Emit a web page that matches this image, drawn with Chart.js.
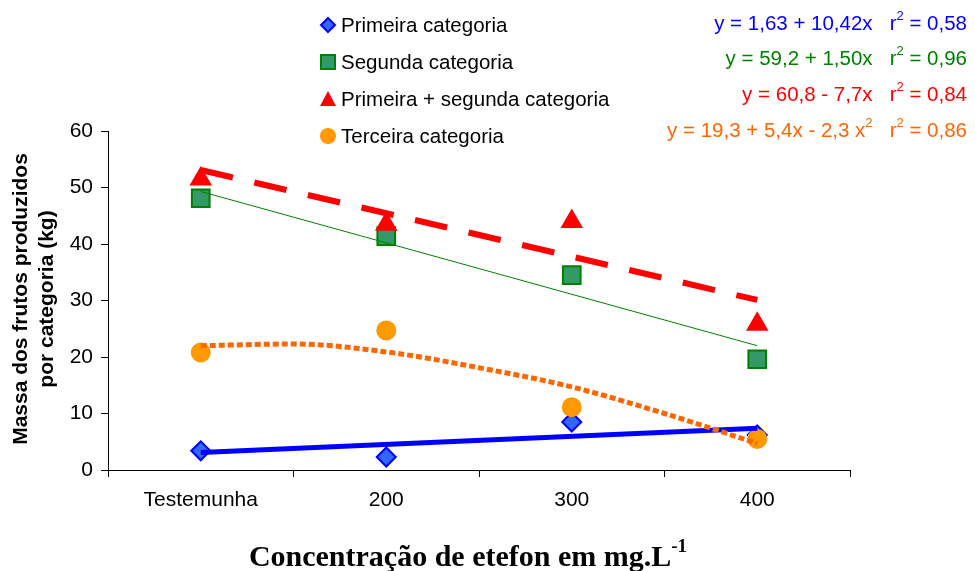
<!DOCTYPE html>
<html>
<head>
<meta charset="utf-8">
<script src="https://cdn.jsdelivr.net/npm/chart.js@4.4.0/dist/chart.umd.min.js"></script>
<style>
  html, body { margin: 0; padding: 0; background: #fff; }
</style>
</head>
<body>
<canvas id="massaChart" width="975" height="571"></canvas>
<script>
// categorias do eixo x (posicao 1..4 no eixo linear escondido)
const categories = ['Testemunha', '200', '300', '400'];
const catPos = [1, 2, 3, 4];

// valores (kg)
const primeira = [3.4, 2.3, 8.5, 6.2];
const segunda = [48.1, 41.4, 34.5, 19.6];
const primeiraSegunda = [51.5, 43.5, 44.0, 25.8];
const terceira = [20.8, 24.7, 11.1, 5.5];

// linhas de tendencia
const trendLinX = [1, 4];
const trendPrimeira = [3.1, 7.4];
const trendSegunda = [49.3, 22.0];
const trendSoma = [53.1, 30.1];
const trendTercX = [1, 1.5, 2, 2.5, 3, 3.5, 4];
const trendTerceira = [22.0, 22.3, 20.9, 18.1, 14.7, 10.0, 4.7];

const yMin = 0, yMax = 60, yStep = 10;

const legendLabels = ['Primeira categoria', 'Segunda categoria', 'Primeira + segunda categoria', 'Terceira categoria'];
const equations = [
  [['y = 1,63 + 10,42x   r', 0], ['2', 1], [' = 0,58', 0]],
  [['y = 59,2 + 1,50x   r', 0], ['2', 1], [' = 0,96', 0]],
  [['y = 60,8 - 7,7x   r', 0], ['2', 1], [' = 0,84', 0]],
  [['y = 19,3 + 5,4x - 2,3 x', 0], ['2', 1], ['   r', 0], ['2', 1], [' = 0,86', 0]]
];
const yTitle = ['Massa dos frutos produzidos', 'por categoria (kg)'];
const xTitle = 'Concentração de etefon em mg.L';
const xTitleSup = '-1';

const sans = 'Arial, "Liberation Sans", sans-serif';
const serif = '"Times New Roman", "Liberation Serif", serif';

const colors = {
  blue: '#0000ff', blueFill: '#3366ff',
  green: '#008000', greenFill: '#339966',
  red: '#ff0000',
  orange: '#ff9900', orangeLine: '#ff6600'
};

function pts(xs, ys) {
  return xs.map((x, i) => ({ x: x, y: ys[i] }));
}

function markerSet(label, ys, style, fill, border, radius, order) {
  return {
    label: label,
    data: pts(catPos, ys),
    xAxisID: 'xl',
    showLine: false,
    pointStyle: style,
    pointRadius: radius,
    pointBackgroundColor: fill,
    pointBorderColor: border,
    pointBorderWidth: 2,
    order: order
  };
}

function trendSet(xs, ys, color, width, dash, order, curved) {
  return {
    data: pts(xs, ys),
    xAxisID: 'xl',
    borderColor: color,
    borderWidth: width,
    borderDash: dash,
    borderCapStyle: 'butt',
    pointRadius: 0,
    cubicInterpolationMode: curved ? 'monotone' : 'default',
    tension: 0,
    fill: false,
    order: order
  };
}

// desenha legenda, equacoes e titulos dos eixos
const extrasPlugin = {
  id: 'extras',
  afterDraw(chart) {
    const ctx = chart.ctx;
    ctx.save();

    // legenda
    const rows = [25, 62, 99, 136];
    ctx.font = '20.5px ' + sans;
    ctx.fillStyle = '#000';
    ctx.textBaseline = 'middle';
    ctx.textAlign = 'left';
    legendLabels.forEach((t, i) => ctx.fillText(t, 341, rows[i] + 1));

    const mx = 328;
    // losango
    ctx.beginPath();
    ctx.moveTo(mx, rows[0] - 7); ctx.lineTo(mx + 7, rows[0]);
    ctx.lineTo(mx, rows[0] + 7); ctx.lineTo(mx - 7, rows[0]); ctx.closePath();
    ctx.fillStyle = colors.blueFill; ctx.fill();
    ctx.lineWidth = 2; ctx.strokeStyle = colors.blue; ctx.stroke();
    // quadrado
    ctx.fillStyle = colors.greenFill;
    ctx.fillRect(mx - 7, rows[1] - 7, 14, 14);
    ctx.strokeStyle = colors.green; ctx.strokeRect(mx - 7, rows[1] - 7, 14, 14);
    // triangulo
    ctx.beginPath();
    ctx.moveTo(mx, rows[2] - 8); ctx.lineTo(mx + 8, rows[2] + 7); ctx.lineTo(mx - 8, rows[2] + 7);
    ctx.closePath(); ctx.fillStyle = colors.red; ctx.fill();
    // circulo
    ctx.beginPath(); ctx.arc(mx, rows[3], 8, 0, Math.PI * 2);
    ctx.fillStyle = colors.orange; ctx.fill();

    // equacoes, alinhadas a direita
    const eqRows = [23, 58, 94, 130];
    const eqColors = [colors.blue, colors.green, colors.red, colors.orangeLine];
    equations.forEach((segs, i) => {
      let w = 0;
      segs.forEach(s => {
        ctx.font = (s[1] ? '13px ' : '20.5px ') + sans;
        w += ctx.measureText(s[0]).width;
      });
      let x = 967 - w;
      ctx.fillStyle = eqColors[i];
      segs.forEach(s => {
        ctx.font = (s[1] ? '13px ' : '20.5px ') + sans;
        ctx.fillText(s[0], x, eqRows[i] + (s[1] ? -7 : 1));
        x += ctx.measureText(s[0]).width;
      });
    });

    // titulo eixo y
    ctx.fillStyle = '#000';
    ctx.textBaseline = 'alphabetic';
    ctx.textAlign = 'center';
    ctx.font = 'bold 21px ' + sans;
    ctx.translate(0, 299);
    ctx.rotate(-Math.PI / 2);
    ctx.fillText(yTitle[0], 0, 27);
    ctx.fillText(yTitle[1], 0, 53);
    ctx.setTransform(1, 0, 0, 1, 0, 0);

    // titulo eixo x
    ctx.textAlign = 'left';
    ctx.font = 'bold 30px ' + serif;
    const mainW = ctx.measureText(xTitle).width;
    ctx.font = 'bold 19px ' + serif;
    const supW = ctx.measureText(xTitleSup).width;
    let tx = 468 - (mainW + supW) / 2;
    ctx.font = 'bold 30px ' + serif;
    ctx.fillText(xTitle, tx, 566);
    ctx.font = 'bold 19px ' + serif;
    ctx.fillText(xTitleSup, tx + mainW, 552);

    ctx.restore();
  }
};

const ctx = document.getElementById('massaChart').getContext('2d');
const chart = new Chart(ctx, {
  type: 'line',
  data: {
    datasets: [
      trendSet(trendTercX, trendTerceira, colors.orangeLine, 5, [6, 3], 1, true),
      trendSet(trendLinX, trendSoma, colors.red, 6, [33, 22], 2),
      trendSet(trendLinX, trendSegunda, colors.green, 1, [], 3),
      trendSet(trendLinX, trendPrimeira, colors.blue, 5, [], 4),
      markerSet('Terceira categoria', terceira, 'circle', colors.orange, colors.orange, 9, 5),
      markerSet('Primeira + segunda categoria', primeiraSegunda, 'triangle', colors.red, colors.red, 11, 6),
      markerSet('Segunda categoria', segunda, 'rect', colors.greenFill, colors.green, 12.5, 7),
      markerSet('Primeira categoria', primeira, 'rectRot', colors.blueFill, colors.blue, 9.5, 8)
    ]
  },
  options: {
    responsive: false,
    animation: false,
    devicePixelRatio: 1,
    layout: { padding: { top: 131, right: 125, bottom: 0, left: 0 } },
    plugins: {
      legend: { display: false },
      tooltip: { enabled: false }
    },
    scales: {
      x: {
        type: 'category',
        labels: categories,
        offset: true,
        grid: { offset: true, drawOnChartArea: false, tickLength: 7, color: '#000' },
        border: { color: '#000', width: 1 },
        ticks: { color: '#000', font: { family: sans, size: 21 }, padding: 11, maxRotation: 0, autoSkip: false },
        afterFit: (s) => { s.height = 101; }
      },
      xl: {
        type: 'linear',
        display: false,
        min: 0.5,
        max: 4.5
      },
      y: {
        min: yMin,
        max: yMax,
        ticks: { stepSize: yStep, color: '#000', font: { family: sans, size: 21 }, padding: 8 },
        grid: { drawOnChartArea: false, tickLength: 7, color: '#000' },
        border: { color: '#000', width: 1 },
        afterFit: (s) => { s.width = 108; }
      }
    }
  },
  plugins: [extrasPlugin]
});
</script>
</body>
</html>
